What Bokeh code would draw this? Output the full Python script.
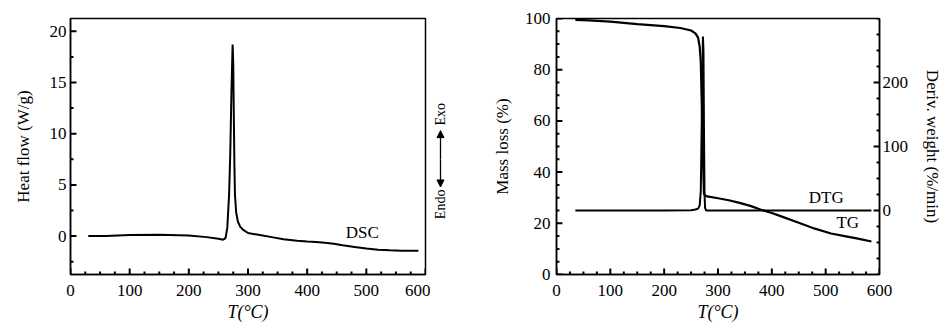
import math
from bokeh.plotting import figure
from bokeh.layouts import row
from bokeh.models import (Range1d, LinearAxis, FixedTicker, Label, Arrow, NormalHead)
from bokeh.embed import file_html
from bokeh.resources import INLINE

# ---------------- data ----------------
dsc_t = [30, 60, 100, 150, 200, 230, 250, 258, 262, 265, 268, 270, 272, 274, 275,
         276, 277, 278, 280, 283, 287, 292, 300, 320, 340, 360, 383, 400, 415, 430,
         445, 460, 480, 500, 520, 540, 560, 588]
dsc_hf = [0.0, 0.02, 0.1, 0.12, 0.05, -0.1, -0.25, -0.35, -0.2, 0.8, 4.0, 8.0, 14.0,
          18.7, 17.0, 12.0, 7.0, 4.0, 2.3, 1.4, 0.9, 0.6, 0.3, 0.1, -0.1, -0.3, -0.46,
          -0.53, -0.58, -0.64, -0.75, -0.9, -1.06, -1.22, -1.33, -1.39, -1.42, -1.42]

tg_t = [35, 60, 100, 150, 200, 230, 250, 258, 263, 266, 268, 270, 272, 274, 276, 280,
        300, 320, 340, 360, 380, 400, 420, 450, 480, 510, 540, 560, 585]
tg_mass = [99.5, 99.3, 98.8, 97.8, 97.0, 96.3, 95.3, 94.2, 92.5, 89.0, 83.0, 65.0,
           45.0, 31.5, 30.9, 30.5, 29.8, 29.0, 28.0, 26.8, 25.3, 24.0, 22.5, 20.2,
           17.9, 16.0, 14.8, 14.0, 12.9]

dtg_t = [35, 100, 200, 250, 258, 263, 266, 268, 270, 272, 273, 274, 275, 276, 278,
         300, 400, 500, 585]
dtg_rate = [0, 0, 0, 0.5, 1.5, 3, 8, 30, 150, 272, 250, 120, 25, 4, 0,
            0, 0, 0, 0]

x_ticks = [0, 100, 200, 300, 400, 500, 600]
x_minor = [v for v in range(0, 601, 25)]
hf_ticks = [0, 5, 10, 15, 20]
hf_minor = [-2.5, 2.5, 7.5, 12.5, 17.5]
mass_ticks = [0, 20, 40, 60, 80, 100]
mass_minor = [v for v in range(0, 101, 5)]
dtg_ticks = [0, 100, 200]
dtg_minor = [v for v in range(-100, 301, 25)]

FONT = "Liberation Serif"
H = 329
TOP1, FH1, FW1 = 16, 258, 355
TOP2, FH2, FW2 = 18, 256, 328
MAJ, MIN = 6.0, 3.0
NAN = float("nan")


def style_axis(ax, size="17px"):
    ax.axis_line_color = "black"
    ax.axis_line_width = 1.5
    ax.major_tick_in = 0
    ax.major_tick_out = 0
    ax.minor_tick_in = 0
    ax.minor_tick_out = 0
    ax.major_label_text_font = FONT
    ax.major_label_text_font_size = size
    ax.major_label_text_color = "black"
    ax.axis_label_text_font = FONT
    ax.axis_label_text_font_size = "17px"
    ax.axis_label_text_font_style = "normal"
    ax.axis_label_text_color = "black"


def ticks_in(p, vals, minor, side, rng, fw, fh, y_range_name="default"):
    # inward tick marks, drawn as one broken polyline through the plot's scales
    mnr = [v for v in minor if v not in vals]
    xs, ys = [], []
    for vals_, ln in ((vals, MAJ), (mnr, MIN)):
        for v in vals_:
            if side == "bottom":
                y0 = rng.start
                dy = ln * (rng.end - rng.start) / fh
                xs += [v, v, NAN]
                ys += [y0, y0 + dy, NAN]
            elif side == "left":
                x0 = p.x_range.start
                dx = ln * (p.x_range.end - p.x_range.start) / fw
                xs += [x0, x0 + dx, NAN]
                ys += [v, v, NAN]
            else:
                x1 = p.x_range.end
                dx = ln * (p.x_range.end - p.x_range.start) / fw
                xs += [x1, x1 - dx, NAN]
                ys += [v, v, NAN]
    kw = dict(line_color="black", line_width=2)
    if y_range_name != "default":
        kw["y_range_name"] = y_range_name
    p.line(xs, ys, **kw)


def base_fig(width, left, right, top, fh, yr, fw):
    p = figure(width=width, height=H, output_backend="svg", toolbar_location=None,
               x_range=Range1d(0, 600), y_range=yr,
               min_border_left=left, min_border_right=right,
               min_border_top=top, min_border_bottom=H - top - fh)
    p.grid.visible = False
    p.outline_line_color = "black"
    p.outline_line_width = 1.5
    p.outline_line_alpha = 1
    p.background_fill_color = "white"
    p.border_fill_color = "white"
    xa = p.xaxis[0]
    xa.ticker = FixedTicker(ticks=x_ticks)
    style_axis(xa)
    xa.axis_label = "T(°C)"
    xa.axis_label_text_font_style = "italic"
    xa.axis_label_text_font_size = "18px"
    xa.major_label_standoff = 10
    xa.axis_label_standoff = 3
    ticks_in(p, x_ticks, x_minor, "bottom", yr, fw, fh)
    return p


# ---------------- left: DSC ----------------
yr1 = Range1d(-3.75, 21.25)
p1 = base_fig(430, 70, 5, TOP1, FH1, yr1, FW1)
ya = p1.yaxis[0]
ya.ticker = FixedTicker(ticks=hf_ticks)
style_axis(ya)
ya.axis_label = "Heat flow (W/g)"
ya.major_label_standoff = 4
ya.axis_label_standoff = 14
ticks_in(p1, hf_ticks, hf_minor, "left", yr1, FW1, FH1)

p1.line(dsc_t, dsc_hf, line_color="black", line_width=2)
p1.add_layout(Label(x=493, y=0.4, text="DSC", text_font=FONT, text_font_size="17px",
                    text_align="center", text_baseline="middle", text_color="black"))

# ---------------- middle strip: Endo / Exo ----------------
pm = figure(width=30, height=H, output_backend="svg", toolbar_location=None,
            x_range=Range1d(0, 30), y_range=yr1,
            x_axis_location=None, y_axis_location=None,
            min_border_left=0, min_border_right=0, min_border_top=TOP1,
            min_border_bottom=H - TOP1 - FH1)
pm.grid.visible = False
pm.outline_line_color = None
pm.background_fill_color = "white"
pm.border_fill_color = "white"
pm.add_layout(Label(x=10, y=11.9, text="Exo", angle=math.pi / 2, text_font=FONT,
                    text_font_size="14px", text_align="center", text_baseline="middle",
                    text_color="black"))
pm.add_layout(Label(x=10, y=3.1, text="Endo", angle=math.pi / 2, text_font=FONT,
                    text_font_size="14px", text_align="center", text_baseline="middle",
                    text_color="black"))
pm.add_layout(Arrow(x_start=10, y_start=7.5, x_end=10, y_end=10.3,
                    line_color="black", line_width=1.3,
                    end=NormalHead(size=7, fill_color="black", line_color="black")))
pm.add_layout(Arrow(x_start=10, y_start=7.5, x_end=10, y_end=4.8,
                    line_color="black", line_width=1.3,
                    end=NormalHead(size=7, fill_color="black", line_color="black")))

# ---------------- right: TG / DTG ----------------
yr2 = Range1d(0, 100)
p2 = base_fig(485, 96, 485 - 96 - FW2, TOP2, FH2, yr2, FW2)
ya2 = p2.yaxis[0]
ya2.ticker = FixedTicker(ticks=mass_ticks)
style_axis(ya2)
ya2.axis_label = "Mass loss (%)"
ya2.major_label_standoff = 6
ya2.axis_label_standoff = 10
ticks_in(p2, mass_ticks, mass_minor, "left", yr2, FW2, FH2)

yr_dtg = Range1d(-100, 300)
p2.extra_y_ranges = {"dtg": yr_dtg}
ra = LinearAxis(y_range_name="dtg")
ra.ticker = FixedTicker(ticks=dtg_ticks)
style_axis(ra)
ra.axis_label = "Deriv. weight (%/min)"
ra.major_label_standoff = 3
ra.axis_label_standoff = 12
p2.add_layout(ra, "right")
ticks_in(p2, dtg_ticks, dtg_minor, "right", yr_dtg, FW2, FH2, y_range_name="dtg")

p2.line(tg_t, tg_mass, line_color="black", line_width=2.2)
p2.line(dtg_t, dtg_rate, y_range_name="dtg", line_color="black", line_width=2)
p2.add_layout(Label(x=501, y=30.2, text="DTG", text_font=FONT, text_font_size="17px",
                    text_align="center", text_baseline="middle", text_color="black"))
p2.add_layout(Label(x=541, y=20.5, text="TG", text_font=FONT, text_font_size="17px",
                    text_align="center", text_baseline="middle", text_color="black"))

layout = row(p1, pm, p2)
open("out.html", "w").write(file_html(layout, INLINE))
